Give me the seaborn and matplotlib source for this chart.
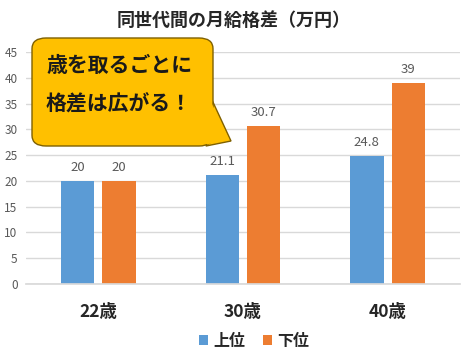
import pandas as pd
import seaborn as sns
import matplotlib.pyplot as plt
from matplotlib.patches import FancyBboxPatch, Polygon

ages = ['22歳', '30歳', '40歳']
groups = ['上位', '下位']
upper = [20, 21.1, 24.8]
lower = [20, 30.7, 39]
yticks = [0, 5, 10, 15, 20, 25, 30, 35, 40, 45]
title = '同世代間の月給格差（万円）'
callout = ['歳を取るごとに', '格差は広がる！']

df = pd.DataFrame({
    'age': ages * 2,
    'group': [groups[0]] * 3 + [groups[1]] * 3,
    'value': upper + lower,
})

sns.set_theme(style='white')
plt.rcParams['font.family'] = ['Noto Sans CJK JP', 'DejaVu Sans']

W, H = 468, 358
fig = plt.figure(figsize=(W / 100, H / 100), dpi=100)
ax = fig.add_axes([26 / W, 1 - 284 / H, 434 / W, 232 / H])

sns.barplot(data=df, x='age', y='value', hue='group', palette=['#5B9BD5', '#ED7D31'],
            width=0.574, gap=0.2, saturation=1, linewidth=0, ax=ax, legend=True)

for c in ax.containers:
    ax.bar_label(c, labels=[f'{v:g}' for v in c.datavalues], padding=5,
                 fontsize=9.5, color='#595959')

ax.set_ylim(0, 45)
ax.set_xlim(-0.5, 2.5)
ax.set_yticks(yticks)
ax.yaxis.grid(True, color='#D9D9D9', linewidth=1)
ax.set_axisbelow(True)
for s in ['top', 'right', 'left']:
    ax.spines[s].set_visible(False)
ax.spines['bottom'].set_color('#D9D9D9')
ax.tick_params(axis='y', length=0, pad=6, labelsize=8.5, labelcolor='#595959')
ax.tick_params(axis='x', length=0, pad=14, labelsize=12.5)
for t in ax.get_xticklabels():
    t.set_fontweight('bold')
ax.set_xlabel('')
ax.set_ylabel('')

ax.legend(loc='center', bbox_to_anchor=(254 / W, 1 - 341 / H), bbox_transform=fig.transFigure,
          ncol=2, frameon=False, handlelength=0.6, handleheight=0.6, handletextpad=0.3,
          columnspacing=1.1, prop={'weight': 'bold', 'size': 11.5})

fig.text(0.5, 1 - 20 / H, title, ha='center', va='center', fontsize=13, fontweight='bold',
         color='#262626')


def fp(x, y):
    return (x / W, 1 - y / H)


face, edge = '#FFC000', '#7F6000'
tail = [fp(212, 100), fp(231, 141), fp(206, 146)]
fig.patches.append(Polygon(tail, closed=True, transform=fig.transFigure, facecolor=face,
                           edgecolor=edge, linewidth=1, zorder=5))
x0, y0 = fp(32, 146)
x1, y1 = fp(213, 38)
fig.patches.append(FancyBboxPatch((x0, y0), x1 - x0, y1 - y0,
                                  boxstyle='round,pad=0,rounding_size=0.03',
                                  transform=fig.transFigure, facecolor=face,
                                  edgecolor=edge, linewidth=1, zorder=6))
inner = [fp(211, 102), fp(229, 139), fp(207, 144.5), fp(205, 120)]
fig.patches.append(Polygon(inner, closed=True, transform=fig.transFigure, facecolor=face,
                           edgecolor='none', zorder=7))
for line, yy in zip(callout, [65, 104]):
    fig.text(46 / W, 1 - yy / H, line, ha='left', va='center', fontsize=15, fontweight='bold',
             color='#1a1a1a', zorder=8)

fig.savefig('out.png', dpi=100)
